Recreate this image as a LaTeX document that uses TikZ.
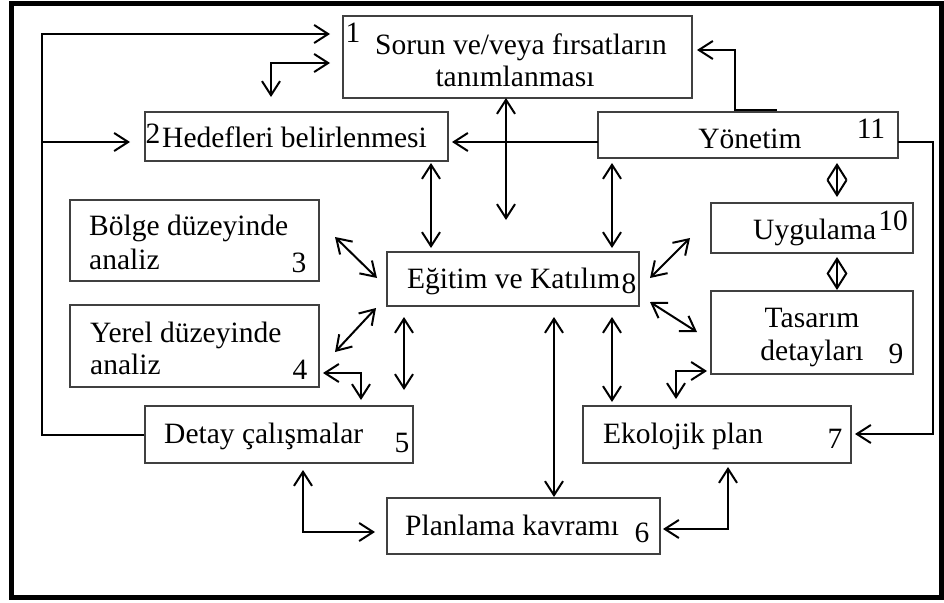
\documentclass[tikz,border=0pt]{standalone}
\usepackage{fontspec}
\setmainfont{Liberation Serif}
\usetikzlibrary{arrows.meta}
\begin{document}
\begin{tikzpicture}[x=1pt,y=-1pt,
  box/.style={draw=black!75,line width=1.2pt,inner sep=0pt,rectangle},
  txt/.style={inner sep=0pt,font=\fontsize{29.5}{31}\selectfont},
  conn/.style={line width=2pt,draw=black},
  a/.style={conn,-{Straight Barb[length=14pt,width=18pt]}},
  ab/.style={conn,{Straight Barb[length=14pt,width=18pt]}-{Straight Barb[length=14pt,width=18pt]}},
  dia/.style={conn,{Straight Barb[length=15pt,width=19pt]}-{Straight Barb[length=15pt,width=19pt]}}]
\useasboundingbox (0,0) rectangle (944,602);
\draw[line width=4.5pt] (11.5,3.5) rectangle (941.5,597.5);

% boxes
\node[box,minimum width=349pt,minimum height=82pt] (b1) at (517.5,57) {};
\node[box,minimum width=303pt,minimum height=49pt] (b2) at (296.5,136.5) {};
\node[box,minimum width=300pt,minimum height=46pt] (b11) at (748,135) {};
\node[box,minimum width=249pt,minimum height=81pt] (b3) at (194.5,240.5) {};
\node[box,minimum width=249pt,minimum height=82pt] (b4) at (194.5,346) {};
\node[box,minimum width=252pt,minimum height=54pt] (b8) at (513,279) {};
\node[box,minimum width=202pt,minimum height=50pt] (b10) at (812,228) {};
\node[box,minimum width=202pt,minimum height=83pt] (b9) at (812,332.5) {};
\node[box,minimum width=268pt,minimum height=57pt] (b5) at (279,434.5) {};
\node[box,minimum width=268pt,minimum height=57pt] (b7) at (717,434.5) {};
\node[box,minimum width=273pt,minimum height=56pt] (b6) at (523.5,526) {};

% texts
\node[txt,anchor=base west] (t1a) at (375,55) {Sorun ve/veya fırsatların};
\node[txt,anchor=base] (t1b) at (515,86) {tanımlanması};
\node[txt,anchor=base] (n1) at (353,42) {1};
\node[txt,anchor=base west] (t2) at (162,147) {Hedefleri belirlenmesi};
\node[txt,anchor=base] (n2) at (153,143) {2};
\node[txt,anchor=base] (t11) at (750,148) {Yönetim};
\node[txt,anchor=base] (n11) at (871,138) {11};
\node[txt,anchor=base west] (t3a) at (89,235) {Bölge düzeyinde};
\node[txt,anchor=base west] (t3b) at (89,269) {analiz};
\node[txt,anchor=base] (n3) at (299,272) {3};
\node[txt,anchor=base west] (t4a) at (90,342) {Yerel düzeyinde};
\node[txt,anchor=base west] (t4b) at (90,374) {analiz};
\node[txt,anchor=base] (n4) at (300,379) {4};
\node[txt,anchor=base west] (t8) at (407,288) {Eğitim ve Katılım};
\node[txt,anchor=base] (n8) at (629,293) {8};
\node[txt,anchor=base west] (t10) at (753,239) {Uygulama};
\node[txt,anchor=base] (n10) at (893,230) {10};
\node[txt,anchor=base] (t9a) at (812,327) {Tasarım};
\node[txt,anchor=base] (t9b) at (812,360) {detayları};
\node[txt,anchor=base] (n9) at (896,363) {9};
\node[txt,anchor=base west] (t5) at (164,443) {Detay çalışmalar};
\node[txt,anchor=base] (n5) at (402,452) {5};
\node[txt,anchor=base west] (t7) at (603,443) {Ekolojik plan};
\node[txt,anchor=base] (n7) at (835,448) {7};
\node[txt,anchor=base west] (t6) at (405,535) {Planlama kavramı};
\node[txt,anchor=base] (n6) at (642,542) {6};

% coordinates
\coordinate (lp1) at (42,434.5);
\coordinate (lp2) at (42,34);
\coordinate (lp3) at (330,34);
\coordinate (lb1) at (42,142);
\coordinate (lb2) at (130,142);
\coordinate (e1a) at (271,97);
\coordinate (e1b) at (271,63);
\coordinate (e1c) at (330,63);
\coordinate (y1a) at (777,110);
\coordinate (y1b) at (735,110);
\coordinate (y1c) at (735,50);
\coordinate (y1d) at (697,50);
\coordinate (y2a) at (598,142);
\coordinate (y2b) at (452,142);
\coordinate (v1a) at (506,98);
\coordinate (v1b) at (506,220);
\coordinate (v2a) at (431,163);
\coordinate (v2b) at (431,248);
\coordinate (v3a) at (612,163);
\coordinate (v3b) at (612,248);
\coordinate (d3a) at (335,237);
\coordinate (d3b) at (377,278);
\coordinate (d4a) at (376,308);
\coordinate (d4b) at (335,352);
\coordinate (e4a) at (323,373);
\coordinate (e4b) at (361,373);
\coordinate (e4c) at (361,400);
\coordinate (v4a) at (404,317);
\coordinate (v4b) at (404,390);
\coordinate (v5a) at (554,317);
\coordinate (v5b) at (554,497);
\coordinate (v6a) at (612,317);
\coordinate (v6b) at (612,402);
\coordinate (d10a) at (650,278);
\coordinate (d10b) at (690,238);
\coordinate (d9a) at (650,302);
\coordinate (d9b) at (697,332);
\coordinate (e9a) at (676,399);
\coordinate (e9b) at (676,371);
\coordinate (e9c) at (707,371);
\coordinate (m1a) at (837,163);
\coordinate (m1b) at (837,197);
\coordinate (m2a) at (837,257);
\coordinate (m2b) at (837,290);
\coordinate (r1) at (898,142);
\coordinate (r2) at (933,142);
\coordinate (r3) at (933,434);
\coordinate (r4) at (855,434);
\coordinate (p5a) at (303,470);
\coordinate (p5b) at (303,532);
\coordinate (p5c) at (375,532);
\coordinate (p7a) at (728,467);
\coordinate (p7b) at (728,529);
\coordinate (p7c) at (663,529);

% connectors
\draw[a] (b5.west) -- (lp1) -- (lp2) -- (lp3);
\draw[a] (lb1) -- (lb2);
\draw[ab] (e1a) -- (e1b) -- (e1c);
\draw[a] (y1a) -- (y1b) -- (y1c) -- (y1d);
\draw[a] (y2a) -- (y2b);
\draw[ab] (v1a) -- (v1b);
\draw[ab] (v2a) -- (v2b);
\draw[ab] (v3a) -- (v3b);
\draw[ab] (d3a) -- (d3b);
\draw[ab] (d4a) -- (d4b);
\draw[ab] (e4a) -- (e4b) -- (e4c);
\draw[ab] (v4a) -- (v4b);
\draw[ab] (v5a) -- (v5b);
\draw[ab] (v6a) -- (v6b);
\draw[ab] (d10a) -- (d10b);
\draw[ab] (d9a) -- (d9b);
\draw[ab] (e9a) -- (e9b) -- (e9c);
\draw[dia] (m1a) -- (m1b);
\draw[dia] (m2a) -- (m2b);
\draw[a] (r1) -- (r2) -- (r3) -- (r4);
\draw[ab] (p5a) -- (p5b) -- (p5c);
\draw[ab] (p7a) -- (p7b) -- (p7c);
\end{tikzpicture}
\end{document}
